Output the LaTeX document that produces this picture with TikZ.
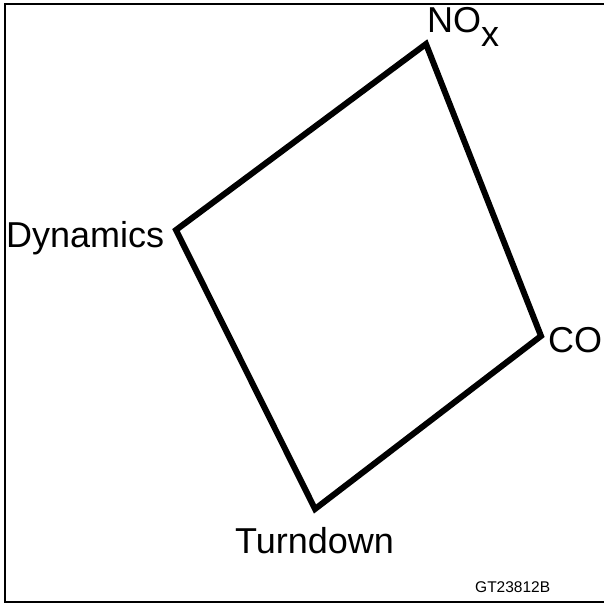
\documentclass[tikz,border=0pt]{standalone}
\usepackage{fontspec}
\setmainfont{Liberation Sans}
\usepackage{tikz}
\usetikzlibrary{positioning}
\tikzset{
  frameline/.style={draw=black, line width=2.5pt},
  quadline/.style={draw=black, line width=6pt, line join=miter},
  axislabel/.style={inner sep=0pt, anchor=base west, font=\fontsize{36}{40}\selectfont},
  tag/.style={inner sep=0pt, anchor=base west, font=\fontsize{15.5}{18}\selectfont},
}

\begin{document}
\begin{tikzpicture}[x=1pt, y=-1pt]
  \useasboundingbox (0,0) rectangle (604,603);
  % frame (right side runs off the page)
  \coordinate (ftr) at (610,4);
  \coordinate (ftl) at (5,4);
  \coordinate (fbl) at (5,602);
  \coordinate (fbr) at (610,602);
  \draw[frameline] (ftr) -- (ftl) -- (fbl) -- (fbr);
  % corners of the quadrilateral
  \coordinate (nox) at (426,44);
  \coordinate (dyn) at (176,230);
  \coordinate (turn) at (315,509);
  \coordinate (co) at (541,336);
  \draw[quadline] (nox) -- (dyn) -- (turn) -- (co) -- cycle;
  % labels
  \node[axislabel] (noxlbl) at (427,32) {NO\raisebox{-14pt}{x}};
  \node[axislabel] (dynlbl) at (6,247) {Dynamics};
  \node[axislabel] (colbl) at (548,352) {CO};
  \node[axislabel] (turnlbl) at (235,553) {Turndown};
  \node[tag] (figtag) at (475,592) {GT23812B};
\end{tikzpicture}
\end{document}
